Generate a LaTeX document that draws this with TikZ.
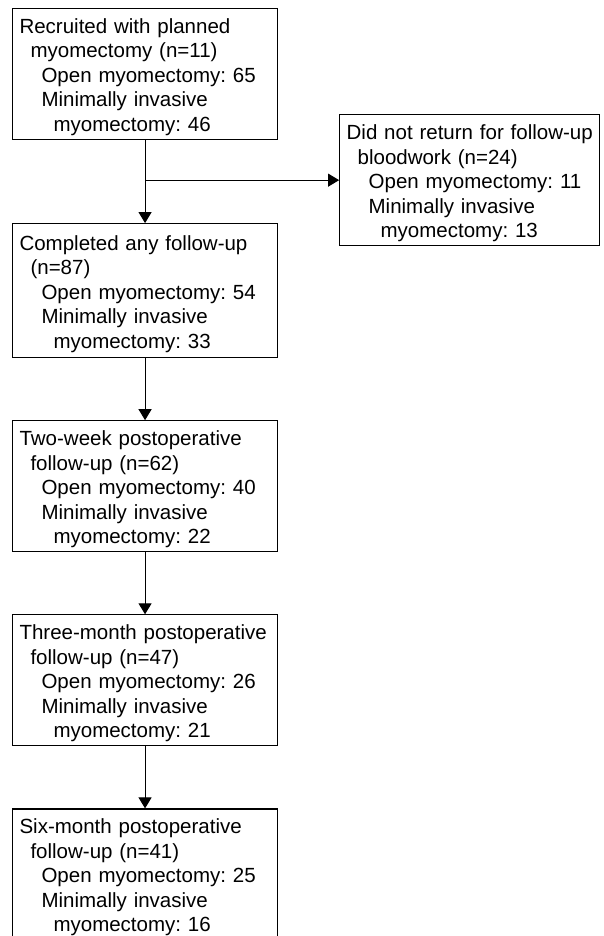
\documentclass[tikz,border=0pt]{standalone}
\usepackage{fontspec}
\setmainfont{Liberation Sans}
\usetikzlibrary{arrows.meta, positioning}
\tikzstyle{stage} = [rectangle, draw=black, line width=1.1pt, minimum height=131pt, text width=251pt, inner xsep=7pt, inner ysep=2pt, align=left, font=\fontsize{20.5}{24.5}\selectfont, execute at begin node=\rule{0pt}{21pt}]
\tikzstyle{arrow} = [line width=1.1pt, -{Triangle[width=13pt,length=11pt]}]
\newcommand{\indt}[1]{\hspace*{#1pt}}
\frenchspacing

\begin{document}
\begin{tikzpicture}[
        node distance=62pt
    ]
        \useasboundingbox (0,0) rectangle (604pt,-936pt);

        % Main column
        \node (recruited) [stage, anchor=north west] at (12pt,-8pt) {Recruited with planned\\ \indt{11}myomectomy (n=11)\\ \indt{22}Open myomectomy: 65\\ \indt{22}Minimally invasive\\ \indt{34}myomectomy: 46};
        \node (completed) [stage, minimum height=134pt, below=83pt of recruited] {Completed any follow-up\\ \indt{11}(n=87)\\ \indt{22}Open myomectomy: 54\\ \indt{22}Minimally invasive\\ \indt{34}myomectomy: 33};
        \node (twoweek) [stage, below=of completed] {Two-week postoperative\\ \indt{11}follow-up (n=62)\\ \indt{22}Open myomectomy: 40\\ \indt{22}Minimally invasive\\ \indt{34}myomectomy: 22};
        \node (threemonth) [stage, below=of twoweek] {Three-month postoperative\\ \indt{11}follow-up (n=47)\\ \indt{22}Open myomectomy: 26\\ \indt{22}Minimally invasive\\ \indt{34}myomectomy: 21};
        \node (sixmonth) [stage, below=of threemonth] {Six-month postoperative\\ \indt{11}follow-up (n=41)\\ \indt{22}Open myomectomy: 25\\ \indt{22}Minimally invasive\\ \indt{34}myomectomy: 16};

        % Drop-out (right)
        \node (dropout) [stage, text width=254pt, inner xsep=3pt, below right=-26pt and 61pt of recruited.south east] {\indt{4}Did not return for follow-up\\ \indt{15}bloodwork (n=24)\\ \indt{26}Open myomectomy: 11\\ \indt{26}Minimally invasive\\ \indt{38}myomectomy: 13};

        % Arrows
        \coordinate (split) at (recruited.south |- dropout.west);
        \draw [arrow] (recruited) -- (completed);
        \draw [arrow] (split) -- (dropout.west);
        \draw [arrow] (completed) -- (twoweek);
        \draw [arrow] (twoweek) -- (threemonth);
        \draw [arrow] (threemonth) -- (sixmonth);

    \end{tikzpicture}
\end{document}
